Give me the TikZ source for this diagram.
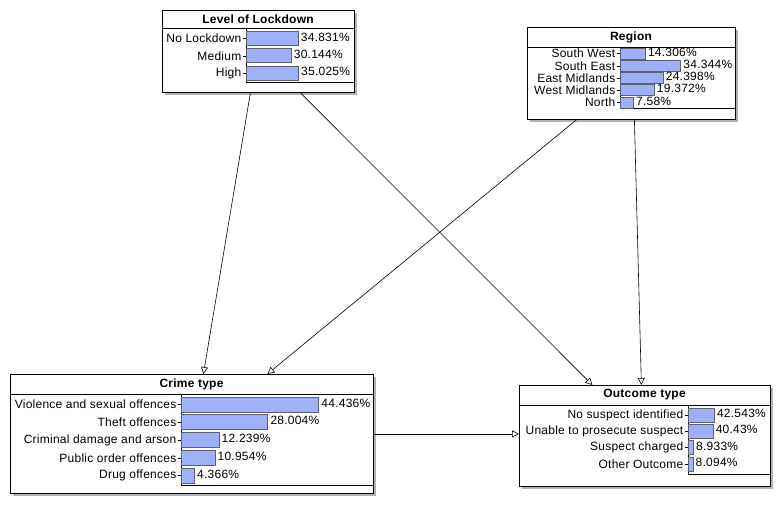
\documentclass[tikz,border=0pt]{standalone}
\usepackage{fontspec}
\setmainfont[LetterSpace=2]{Liberation Sans}
\usetikzlibrary{arrows.meta}
\usetikzlibrary{shadows}
\definecolor{barblue}{RGB}{160,176,248}
\definecolor{barline}{RGB}{95,95,115}
\tikzset{dep/.style = {draw, line width=0.6pt,
                       -{Triangle[open, length=7pt, width=7pt]}},
         netbox/.style = {draw, fill=white, anchor=north west, inner sep=0pt,
                          line width=0.8pt,
                          drop shadow={shadow xshift=3pt, shadow yshift=-3pt,
                                       fill=black!30, opacity=1}},
         boxtitle/.style = {font=\fontsize{12}{14}\selectfont\bfseries, inner sep=0pt},
         lbl/.style = {anchor=east, inner sep=0.5pt, font=\fontsize{12}{14}\selectfont},
         pct/.style = {anchor=west, inner sep=2.5pt, font=\fontsize{12}{14}\selectfont},
         bar/.style = {draw=barline, fill=barblue, line width=0.7pt},
         rule/.style = {line width=0.8pt}}

\begin{document}
\begin{tikzpicture}[x=1pt, y=-1pt]
      \path[use as bounding box, fill=white] (0,0) rectangle (780,506);

      % nodes of the network
      \node[netbox, minimum width=192pt, minimum height=82pt] (lockdown) at (162,10) {};
      \node[netbox, minimum width=208pt, minimum height=92pt] (region) at (527,27) {};
      \node[netbox, minimum width=363pt, minimum height=119pt] (crime) at (10,374) {};
      \node[netbox, minimum width=251pt, minimum height=101pt] (outcome) at (519,385) {};

      % Level of Lockdown
      \node[boxtitle] (lockdowntitle) at (258,19) {Level of Lockdown};
      \draw[rule] (162,28) -- (354,28);
      \draw[rule] (246,28) -- (246,82) -- (354,82);
      \foreach \lab/\val [count=\i from 0] in {No Lockdown/34.831, Medium/30.144, High/35.025} {
        \pgfmathsetmacro\yy{38.5+17.3*\i}
        \pgfmathsetmacro\xx{246+1.5*\val}
        \draw (242.5,\yy) -- (246,\yy);
        \node[lbl] at (242,\yy) {\lab};
        \draw[bar] (246,\yy-7) rectangle (\xx,\yy+7);
        \node[pct] at (\xx,\yy-1.5) {\val\%};
      }

      % Region
      \node[boxtitle] (regiontitle) at (631,37) {Region};
      \draw[rule] (527,47) -- (735,47);
      \draw[rule] (620,47) -- (620,108) -- (735,108);
      \foreach \lab/\val [count=\i from 0] in {South West/14.306, South East/34.344,
          East Midlands/24.398, West Midlands/19.372, North/7.58} {
        \pgfmathsetmacro\yy{53.5+12.25*\i}
        \pgfmathsetmacro\xx{620+1.77*\val}
        \draw (616.5,\yy) -- (620,\yy);
        \node[lbl] at (616,\yy) {\lab};
        \draw[bar] (620,\yy-5.5) rectangle (\xx,\yy+5.5);
        \node[pct] at (\xx,\yy-1.5) {\val\%};
      }

      % Crime type
      \node[boxtitle] (crimetitle) at (191.5,384) {Crime type};
      \draw[rule] (10,394) -- (373,394);
      \draw[rule] (181,394) -- (181,485) -- (373,485);
      \foreach \lab/\val [count=\i from 0] in {Violence and sexual offences/44.436,
          Theft offences/28.004, Criminal damage and arson/12.239,
          Public order offences/10.954, Drug offences/4.366} {
        \pgfmathsetmacro\yy{404.5+17.75*\i}
        \pgfmathsetmacro\xx{181+3.1*\val}
        \draw (177.5,\yy) -- (181,\yy);
        \node[lbl] at (177,\yy) {\lab};
        \draw[bar] (181,\yy-7.5) rectangle (\xx,\yy+7.5);
        \node[pct] at (\xx,\yy-1.5) {\val\%};
      }

      % Outcome type
      \node[boxtitle] (outcometitle) at (644.5,395) {Outcome type};
      \draw[rule] (519,405) -- (770,405);
      \draw[rule] (688,405) -- (688,474) -- (770,474);
      \foreach \lab/\val [count=\i from 0] in {No suspect identified/42.543,
          Unable to prosecute suspect/40.43, Suspect charged/8.933,
          Other Outcome/8.094} {
        \pgfmathsetmacro\yy{415+16.3*\i}
        \pgfmathsetmacro\xx{688+0.62*\val}
        \draw (684.5,\yy) -- (688,\yy);
        \node[lbl] at (684,\yy) {\lab};
        \draw[bar] (688,\yy-7) rectangle (\xx,\yy+7);
        \node[pct] at (\xx,\yy-1.5) {\val\%};
      }

      % links
      \draw[dep] ([xshift=-8pt]lockdown.south) -- ([xshift=11.5pt]crime.north);
      \draw[dep] ([xshift=42pt]lockdown.south) -- ([xshift=-52.5pt]outcome.north);
      \draw[dep] ([xshift=-55pt]region.south) -- ([xshift=75.5pt]crime.north);
      \draw[dep] ([xshift=3pt]region.south) -- ([xshift=-3.5pt]outcome.north);
      \draw[dep] (crime.east) -- (crime.east -| outcome.west);
    \end{tikzpicture}
\end{document}
